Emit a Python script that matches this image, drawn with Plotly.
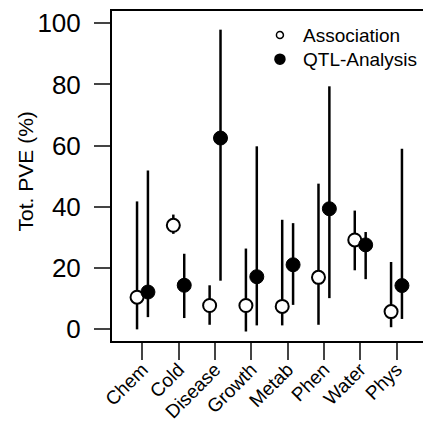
import plotly.graph_objects as go

categories = ["Chem", "Cold", "Disease", "Growth", "Metab", "Phen", "Water", "Phys"]

assoc_mean = [10.5, 34.0, 7.8, 7.8, 7.5, 17.0, 29.2, 5.8]
assoc_low = [0.0, 31.2, 1.5, -0.7, 1.3, 1.5, 19.3, 0.7]
assoc_high = [41.8, 37.5, 14.4, 26.4, 35.8, 47.6, 38.8, 22.0]

qtl_mean = [12.2, 14.4, 62.5, 17.2, 21.1, 39.4, 27.6, 14.3]
qtl_low = [4.0, 3.7, 15.9, 1.3, 8.0, 10.2, 16.4, 3.4]
qtl_high = [51.9, 24.7, 97.9, 59.8, 34.7, 79.4, 31.8, 59.0]

y_ticks = [0, 20, 40, 60, 80, 100]
legend_labels = ["Association", "QTL-Analysis"]
y_title = "Tot. PVE (%)"

offset = 0.15
idx = list(range(len(categories)))
font_family = "Liberation Sans, Arial, sans-serif"

fig = go.Figure()

fig.add_trace(go.Scatter(
    x=[i - offset for i in idx], y=assoc_mean, mode="markers", name=legend_labels[0],
    marker=dict(symbol="circle", size=13, color="white", line=dict(color="black", width=2)),
    error_y=dict(type="data", symmetric=False,
                 array=[h - m for h, m in zip(assoc_high, assoc_mean)],
                 arrayminus=[m - l for m, l in zip(assoc_mean, assoc_low)],
                 width=0, thickness=2.5, color="black"),
    showlegend=False))

fig.add_trace(go.Scatter(
    x=[i + offset for i in idx], y=qtl_mean, mode="markers", name=legend_labels[1],
    marker=dict(symbol="circle", size=14, color="black", line=dict(color="black", width=1)),
    error_y=dict(type="data", symmetric=False,
                 array=[h - m for h, m in zip(qtl_high, qtl_mean)],
                 arrayminus=[m - l for m, l in zip(qtl_mean, qtl_low)],
                 width=0, thickness=2.5, color="black"),
    showlegend=False))

# manual legend (R-style compact legend)
leg_x_marker = 0.540
leg_x_text = 0.607
leg_y = [0.927, 0.854]
leg_fill = ["white", "black"]
leg_size = [7, 10]
for lab, yy, fc, sz in zip(legend_labels, leg_y, leg_fill, leg_size):
    fig.add_shape(type="circle", xref="paper", yref="paper",
                  xsizemode="pixel", ysizemode="pixel",
                  xanchor=leg_x_marker, yanchor=yy,
                  x0=-sz / 2, x1=sz / 2, y0=-sz / 2, y1=sz / 2,
                  fillcolor=fc, line=dict(color="black", width=1.5))
    fig.add_annotation(xref="paper", yref="paper", x=leg_x_text, y=yy,
                       text=lab, showarrow=False, xanchor="left", yanchor="middle",
                       font=dict(size=19, family=font_family, color="black"))

# y-axis title
fig.add_annotation(xref="paper", yref="paper", x=-0.2797, y=0.514,
                   text=y_title, textangle=-90, showarrow=False,
                   xanchor="center", yanchor="middle",
                   font=dict(size=21, family=font_family, color="black"))

fig.update_layout(
    width=423, height=421,
    margin=dict(l=112, r=0, t=11, b=80),
    paper_bgcolor="white", plot_bgcolor="white",
    font=dict(family=font_family, color="black"),
    showlegend=False,
    xaxis=dict(range=[-0.84, 7.73], tickvals=idx, ticktext=categories,
               tickangle=-45, ticks="outside", ticklen=17, tickwidth=2,
               showline=True, linewidth=2, linecolor="black", mirror=True,
               showgrid=False, zeroline=False, automargin=False,
               ticklabelstandoff=-9,
               tickfont=dict(size=19, family=font_family)),
    yaxis=dict(range=[-3.8, 104.0], tickvals=y_ticks,
               ticks="outside", ticklen=16, tickwidth=2,
               showline=True, linewidth=2, linecolor="black",
               showgrid=False, zeroline=False, automargin=False,
               ticklabelstandoff=8,
               tickfont=dict(size=26, family=font_family)),
)

fig.write_html("out.html", config={"displayModeBar": False},
               post_script="document.body.style.margin='0';document.body.style.overflow='hidden';")
